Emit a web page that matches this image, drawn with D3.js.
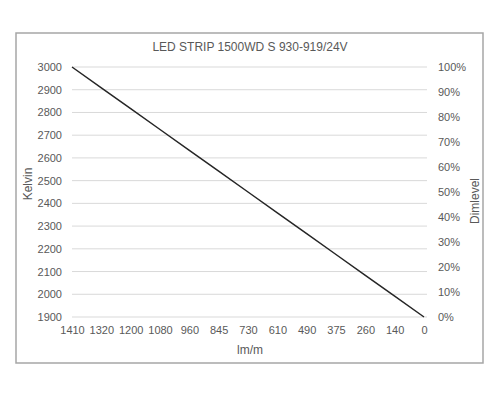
<!DOCTYPE html>
<html>
<head>
<meta charset="utf-8">
<script src="https://cdn.jsdelivr.net/npm/d3@7"></script>
<style>
  body { margin: 0; background: #fff; }
  svg text { font-family: "Liberation Sans", Arial, sans-serif; fill: #595959; }
</style>
</head>
<body>
<svg id="chart" width="500" height="400"></svg>
<script>
// chart values
const title = "LED STRIP 1500WD S 930-919/24V";
const lumen = ["1410", "1320", "1200", "1080", "960", "845", "730", "610", "490", "375", "260", "140", "0"];
const kelvin = [3000, 2908, 2817, 2725, 2633, 2542, 2450, 2358, 2267, 2175, 2083, 1992, 1900];
const kelvinTicks = [1900, 2000, 2100, 2200, 2300, 2400, 2500, 2600, 2700, 2800, 2900, 3000];
const dimTicks = [0, 10, 20, 30, 40, 50, 60, 70, 80, 90, 100];

const svg = d3.select("#chart");
const plot = { left: 72, right: 427, top: 67, bottom: 317 };

// outer frame
svg.append("rect")
   .attr("x", 16).attr("y", 33)
   .attr("width", 467).attr("height", 330)
   .style("fill", "none")
   .style("stroke", "#a6a6a6")
   .style("stroke-width", 1.5);

const x = d3.scalePoint().domain(lumen).range([plot.left, 424]);
const yK = d3.scaleLinear().domain([1900, 3000]).range([plot.bottom, plot.top]);
const yD = d3.scaleLinear().domain([0, 100]).range([plot.bottom, plot.top]);

// gridlines
svg.append("g")
   .selectAll("line")
   .data(kelvinTicks)
   .enter()
   .append("line")
   .attr("x1", plot.left).attr("x2", plot.right)
   .attr("y1", d => yK(d)).attr("y2", d => yK(d))
   .style("stroke", "#d9d9d9")
   .style("stroke-width", 1);

// left axis (Kelvin)
const left = svg.append("g")
   .attr("transform", `translate(${plot.left - 10},0)`)
   .call(d3.axisLeft(yK).tickValues(kelvinTicks).tickSize(0).tickPadding(0).tickFormat(d3.format("d")));
left.select(".domain").remove();
left.selectAll("text").style("font-size", "11px").style("fill", "#595959");

// right axis (dimlevel)
const right = svg.append("g")
   .attr("transform", `translate(438,0)`)
   .call(d3.axisRight(yD).tickValues(dimTicks).tickSize(0).tickPadding(0).tickFormat(d => d + "%"));
right.select(".domain").remove();
right.selectAll("text").style("font-size", "11px").style("fill", "#595959");

// bottom axis (lm/m)
const bottom = svg.append("g")
   .attr("transform", `translate(0,${plot.bottom + 9})`)
   .call(d3.axisBottom(x).tickSize(0).tickPadding(0));
bottom.select(".domain").remove();
bottom.selectAll("text").style("font-size", "11px").style("fill", "#595959");

// the line
svg.append("path")
   .datum(lumen.map((l, i) => ({ l: l, k: kelvin[i] })))
   .attr("d", d3.line().x(d => x(d.l)).y(d => yK(d.k)))
   .style("fill", "none")
   .style("stroke", "#262626")
   .style("stroke-width", 1.5);

// titles
svg.append("text")
   .attr("x", 250).attr("y", 51)
   .attr("text-anchor", "middle")
   .style("font-size", "12px")
   .text(title);

svg.append("text")
   .attr("x", 250).attr("y", 354)
   .attr("text-anchor", "middle")
   .style("font-size", "12px")
   .text("lm/m");

svg.append("text")
   .attr("transform", "translate(32,184) rotate(-90)")
   .attr("text-anchor", "middle")
   .style("font-size", "12px")
   .text("Kelvin");

svg.append("text")
   .attr("transform", "translate(479,201) rotate(-90)")
   .attr("text-anchor", "middle")
   .style("font-size", "12px")
   .text("Dimlevel");
</script>
</body>
</html>
